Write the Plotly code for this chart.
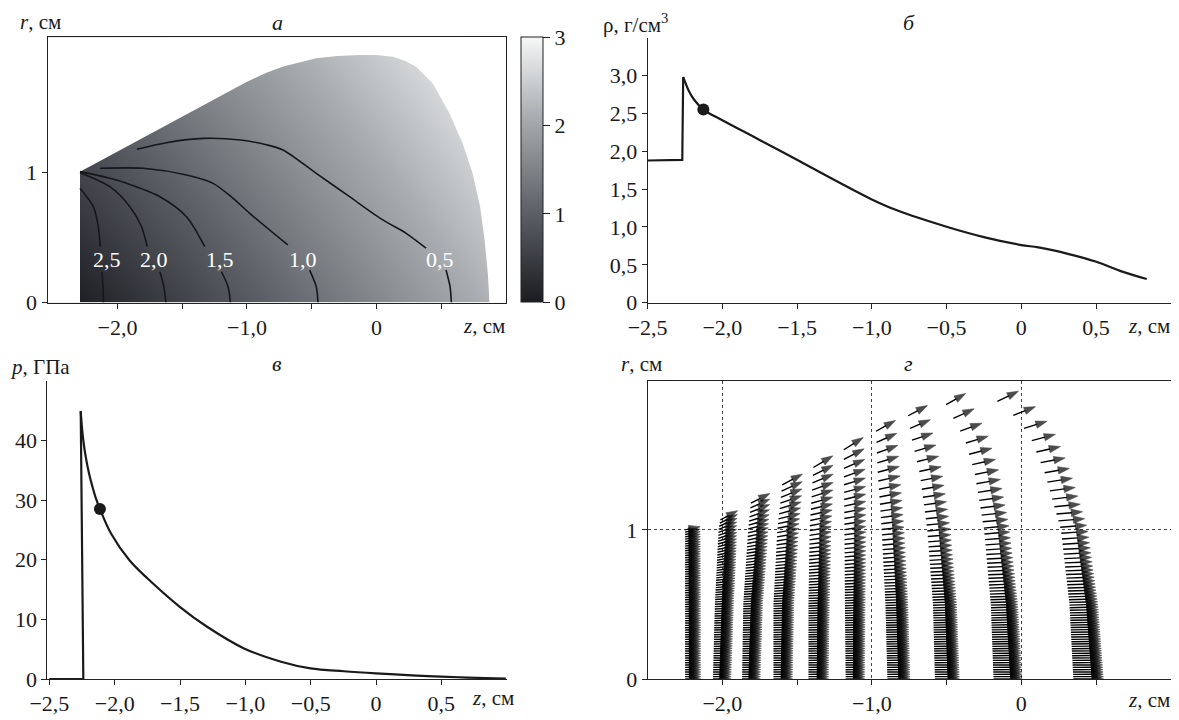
import numpy as np
import plotly.graph_objects as go

# the page adds an 8 px body margin: the figure is sized and placed to compensate
OFF = 8
W, H = 1179 - OFF, 720 - OFF
FONT = "Times New Roman, Liberation Serif, serif"
INK = "#1a1a1a"
FS = 22
FS_ANN = 21

# ---------------- panel a: gray field (read at the frame corners) ----------------
field_z = [-2.54, 1.0]
field_r = [0.0, 2.043]
field_v = [[-0.11, 2.24],
           [1.05, 3.10]]

# outline of the deformed body (z, r)
shape_z = [-2.289, -2.289, -1.60, -1.00, -0.85, -0.72, -0.465, -0.30, -0.131, 0.0, 0.126,
           0.22, 0.306, 0.434, 0.563, 0.665, 0.742, 0.80, 0.835, 0.86, 0.875]
shape_r = [0.0, 1.008, 1.375, 1.700, 1.770, 1.818, 1.881, 1.898, 1.907, 1.906, 1.894,
           1.862, 1.817, 1.689, 1.458, 1.226, 0.995, 0.740, 0.480, 0.220, 0.0]

# density iso-lines (upper part / lower part, broken by the label)
c_levels = ["2,5", "2,0", "1,5", "1,0", "0,5"]
c_up_z = [[-2.289, -2.186, -2.148, -2.133],
          [-2.289, -2.058, -1.904, -1.814, -1.770],
          [-2.289, -2.050, -1.929, -1.672, -1.467, -1.326],
          [-2.135, -1.801, -1.467, -1.262, -1.107, -0.979, -0.684],
          [-1.850, -1.621, -1.336, -1.050, -0.850, -0.722, -0.465, -0.208, 0.049, 0.229, 0.383]]
c_up_r = [[0.880, 0.738, 0.584, 0.430],
          [1.000, 0.892, 0.738, 0.584, 0.430],
          [1.008, 0.955, 0.918, 0.815, 0.661, 0.430],
          [1.034, 1.034, 0.982, 0.918, 0.803, 0.687, 0.443],
          [1.180, 1.231, 1.264, 1.252, 1.215, 1.175, 0.995, 0.815, 0.636, 0.533, 0.418]]
c_lo_z = [[-2.120, -2.112, -2.108],
          [-1.672, -1.642, -1.626],
          [-1.197, -1.146, -1.128],
          [-0.516, -0.465, -0.452],
          [0.537, 0.568, 0.578]]
c_lo_r = [[0.237, 0.122, 0.0],
          [0.237, 0.122, 0.0],
          [0.237, 0.122, 0.0],
          [0.250, 0.122, 0.0],
          [0.250, 0.122, 0.0]]
c_lab_z = [-2.083, -1.719, -1.210, -0.565, 0.491]
c_lab_r = 0.335

# ---------------- panel б: density along the axis ----------------
rho_jump_z = [-2.5, -2.268, -2.262]
rho_jump_v = [1.878, 1.887, 2.982]
rho_z = [-2.262, -2.224, -2.186, -2.127, -2.0, -1.751, -1.501, -1.253, -1.0, -0.832,
         -0.5, -0.244, 0.0, 0.114, 0.318, 0.502, 0.676, 0.839]
rho_v = [2.982, 2.797, 2.674, 2.551, 2.410, 2.150, 1.887, 1.623, 1.364, 1.220,
         1.003, 0.863, 0.761, 0.730, 0.642, 0.541, 0.410, 0.313]
rho_dot = (-2.127, 2.551)

# ---------------- panel в: pressure along the axis ----------------
p_jump_z = [-2.5, -2.240, -2.260]
p_jump_v = [0.0, 0.0, 44.9]
p_z = [-2.260, -2.250, -2.238, -2.226, -2.198, -2.170, -2.147, -2.113, -2.028, -1.887,
       -1.746, -1.502, -1.293, -1.010, -0.727, -0.501, -0.247, 0.0, 0.498, 0.993]
p_v = [44.9, 42.0, 39.6, 37.8, 34.6, 32.2, 30.5, 28.5, 24.4, 19.9,
       16.8, 12.1, 8.76, 5.13, 2.9, 1.78, 1.30, 0.95, 0.39, 0.06]
p_dot = (-2.113, 28.5)

# ---------------- panel г: velocity vectors on 10 material columns ----------------
vel_rtop = [1.000, 1.067, 1.179, 1.302, 1.418, 1.537, 1.661, 1.765, 1.839, 1.861]
vel_r = [[0, 1.0],
         [0, 0.5, 1.0, 1.067],
         [0, 0.5, 1.0, 1.179],
         [0, 0.5, 1.0, 1.302],
         [0, 0.5, 1.0, 1.418],
         [0, 0.5, 1.0, 1.537],
         [0, 0.5, 1.0, 1.38, 1.661],
         [0, 0.5, 1.0, 1.38, 1.60, 1.765],
         [0, 0.5, 1.0, 1.38, 1.60, 1.839],
         [0, 0.5, 1.0, 1.38, 1.604, 1.738, 1.861]]
vel_z = [[-2.249, -2.249],
         [-2.063, -2.050, -2.025, -2.013],
         [-1.868, -1.860, -1.827, -1.809],
         [-1.658, -1.658, -1.632, -1.599],
         [-1.424, -1.424, -1.416, -1.391],
         [-1.175, -1.180, -1.183, -1.188],
         [-0.896, -0.909, -0.934, -0.960, -0.972],
         [-0.578, -0.591, -0.629, -0.680, -0.731, -0.757],
         [-0.186, -0.204, -0.249, -0.312, -0.376, -0.503],
         [0.348, 0.322, 0.265, 0.157, 0.068, -0.020, -0.160]]
vel_len_bot = [0.117, 0.134, 0.134, 0.140, 0.147, 0.140, 0.165, 0.177, 0.204, 0.215]
vel_len_top = [0.115, 0.143, 0.155, 0.165, 0.164, 0.166, 0.161, 0.158, 0.163, 0.169]
vel_ang_top = [12, 28, 27, 28, 31, 32, 29, 28, 30, 26]
ang_frac = [0.0, 0.4, 0.6, 0.8, 0.9, 1.0]
ang_share = [0.0, 0.08, 0.2, 0.45, 0.65, 1.0]
N_PART = 64        # particles per column in the computation
K_STRETCH = 6.0    # stretching of the particle spacing near the free surface

z_ticks_ab = [-2.5, -2.0, -1.5, -1.0, -0.5, 0.0, 0.5]
z_ticktext_ab = ["−2,5", "−2,0", "−1,5", "−1,0", "−0,5", "0", "0,5"]

GRAY = [[0.0, "#1a1c22"], [0.35, "#5f6268"], [0.7, "#a9adb1"], [1.0, "#f6f7f7"]]


def fx(px):
    return (px - OFF) / W


def fy(py):
    return 1 - (py - OFF) / H


fig = go.Figure()

# ---- panel a ----
fig.add_trace(go.Heatmap(
    x=field_z, y=field_r, z=field_v, zsmooth="best", colorscale=GRAY, zmin=0, zmax=3,
    xaxis="x", yaxis="y", hoverinfo="skip",
    colorbar=dict(x=fx(520.7), xanchor="left", xpad=0, y=fy(37.3), yanchor="top", ypad=0,
                  len=(302.5 - 37.3) / H, lenmode="fraction", thickness=22,
                  outlinewidth=1, outlinecolor="#222", tickvals=[0, 1, 2, 3],
                  ticks="outside", ticklen=7, tickcolor="#222",
                  tickfont=dict(family=FONT, size=FS, color=INK))))
fig.add_trace(go.Scatter(x=[-2.7, -2.289] + shape_z[1:] + [1.1, 1.1, -2.7],
                         y=[-0.05, -0.05] + shape_r[1:-1] + [-0.05, -0.05, 2.2, 2.2],
                         fill="toself", fillcolor="white", mode="lines",
                         line=dict(width=0, color="white"), xaxis="x", yaxis="y",
                         hoverinfo="skip", showlegend=False))
for i in range(len(c_levels)):
    for zz, rr_ in ((c_up_z[i], c_up_r[i]), (c_lo_z[i], c_lo_r[i])):
        fig.add_trace(go.Scatter(x=zz, y=rr_, mode="lines",
                                 line=dict(color="#15171c", width=1.6, shape="spline",
                                           smoothing=0.8),
                                 xaxis="x", yaxis="y", showlegend=False, hoverinfo="skip"))
    fig.add_annotation(x=c_lab_z[i], y=c_lab_r, xref="x", yref="y", text=c_levels[i],
                       showarrow=False, font=dict(family=FONT, size=FS, color="white"))

# ---- panel б ----
fig.add_trace(go.Scatter(x=rho_jump_z, y=rho_jump_v, mode="lines",
                         line=dict(color=INK, width=2.2), xaxis="x2", yaxis="y2"))
fig.add_trace(go.Scatter(x=rho_z, y=rho_v, mode="lines",
                         line=dict(color=INK, width=2.2, shape="spline", smoothing=1.0),
                         xaxis="x2", yaxis="y2"))
fig.add_trace(go.Scatter(x=[rho_dot[0]], y=[rho_dot[1]], mode="markers",
                         marker=dict(color=INK, size=12), xaxis="x2", yaxis="y2"))

# ---- panel в ----
fig.add_trace(go.Scatter(x=p_jump_z, y=p_jump_v, mode="lines",
                         line=dict(color=INK, width=2.2), xaxis="x3", yaxis="y3"))
fig.add_trace(go.Scatter(x=p_z, y=p_v, mode="lines",
                         line=dict(color=INK, width=2.2, shape="spline", smoothing=1.0),
                         xaxis="x3", yaxis="y3"))
fig.add_trace(go.Scatter(x=[p_dot[0]], y=[p_dot[1]], mode="markers",
                         marker=dict(color=INK, size=12), xaxis="x3", yaxis="y3"))

# ---- panel г ----
qx, qy, qs = [], [], []
for c in range(len(vel_rtop)):
    rtop = vel_rtop[c]
    s = np.arange(N_PART + 1) / N_PART
    rr = s + (rtop - 1.0) * s ** K_STRETCH
    zt = np.interp(rr, vel_r[c], vel_z[c])
    frac = rr / rtop
    ang = np.radians(vel_ang_top[c] * np.interp(frac, ang_frac, ang_share))
    ln = np.interp(frac, [0, 1], [vel_len_bot[c], vel_len_top[c]]) - 0.012
    for k in range(len(rr)):
        qx += [zt[k], zt[k] + ln[k] * np.cos(ang[k]), None]
        qy += [rr[k], rr[k] + ln[k] * np.sin(ang[k]), None]
        qs += [0, 12, 0]
fig.add_trace(go.Scatter(x=qx, y=qy, mode="lines+markers",
                         line=dict(color="black", width=1.4),
                         marker=dict(symbol="arrow", size=qs, color="black",
                                     angleref="previous", line=dict(width=0.6, color="black")),
                         xaxis="x4", yaxis="y4", hoverinfo="skip", connectgaps=False))


# ---------------- axes ----------------
def dom_x(a, b):
    return [fx(a), fx(b)]


def dom_y(top, bottom):
    return [fy(bottom), fy(top)]


tickfont = dict(family=FONT, size=FS, color=INK)
base = dict(showline=True, linecolor="#222", linewidth=1, ticks="outside", ticklen=5,
            tickcolor="#222", tickfont=tickfont, zeroline=False, showgrid=False,
            fixedrange=True)
minor_z = dict(tickvals=[-1.5, -0.5, 0.5], ticks="outside", ticklen=5,
               tickcolor="#222", showgrid=False)
grid = dict(showgrid=True, gridcolor="#444", griddash="dot", gridwidth=1)

fig.update_layout(
    xaxis=dict(base, domain=dom_x(47.5, 506), range=[-2.54, 1.0], anchor="y", mirror=True,
               tickvals=[-2, -1, 0], ticktext=["−2,0", "−1,0", "0"], minor=minor_z),
    yaxis=dict(base, domain=dom_y(37.3, 302.5), range=[0, 2.043], anchor="x", mirror=True,
               tickvals=[0, 1], ticktext=["0", "1"]),
    xaxis2=dict(base, domain=dom_x(647.6, 1170.8), range=[-2.5, 1.0], anchor="y2",
                tickvals=z_ticks_ab, ticktext=z_ticktext_ab),
    yaxis2=dict(base, domain=dom_y(37.7, 302.7), range=[0, 3.5], anchor="x2",
                tickvals=[0, 0.5, 1.0, 1.5, 2.0, 2.5, 3.0],
                ticktext=["0", "0,5", "1,0", "1,5", "2,0", "2,5", "3,0"]),
    xaxis3=dict(base, domain=dom_x(47.4, 506.7), range=[-2.515, 1.0], anchor="y3",
                tickvals=z_ticks_ab, ticktext=z_ticktext_ab),
    yaxis3=dict(base, domain=dom_y(380.7, 679), range=[0, 50], anchor="x3",
                tickvals=[0, 10, 20, 30, 40], ticktext=["0", "10", "20", "30", "40"]),
    xaxis4=dict(base, **grid, domain=dom_x(647.6, 1170.8), range=[-2.5, 1.0], anchor="y4",
                mirror=True, tickvals=[-2, -1, 0], ticktext=["−2,0", "−1,0", "0"],
                minor=minor_z),
    yaxis4=dict(base, **grid, domain=dom_y(380.7, 679), range=[0, 2.0], anchor="x4",
                mirror=True, tickvals=[0, 1], ticktext=["0", "1"]),
)


def ann(text, px, py, xanchor="left", size=FS_ANN, yanchor="middle"):
    fig.add_annotation(x=fx(px), y=fy(py), xref="paper", yref="paper", text=text,
                       showarrow=False, xanchor=xanchor, yanchor=yanchor,
                       font=dict(family=FONT, size=size, color=INK))


# panel letters (top ones hang from the top edge of the figure)
ann("<i>а</i>", 277, OFF, "center", size=FS_ANN + 1, yanchor="top")
ann("<i>б</i>", 909, OFF, "center", size=FS_ANN + 1, yanchor="top")
ann("<i>в</i>", 277, 363, "center", size=FS_ANN + 1)
ann("<i>г</i>", 908, 363, "center", size=FS_ANN + 1)
# axis labels
ann("<i>r</i>, см", 18, OFF, yanchor="top")
ann("ρ, г/см<sup>3</sup>", 601, OFF, yanchor="top")
ann("<i>p</i>, ГПа", 8, 367)
ann("<i>r</i>, см", 619, 364)
ann("<i>z</i>, см", 507, 326, "right")
ann("<i>z</i>, см", 1172, 326, "right")
ann("<i>z</i>, см", 516, 698, "right")
ann("<i>z</i>, см", 1172, 700, "right")

fig.update_layout(width=W, height=H, margin=dict(l=0, r=0, t=0, b=0),
                  paper_bgcolor="white", plot_bgcolor="white", showlegend=False,
                  template="none", font=dict(family=FONT, size=FS, color=INK))

fig.write_html("out.html")
